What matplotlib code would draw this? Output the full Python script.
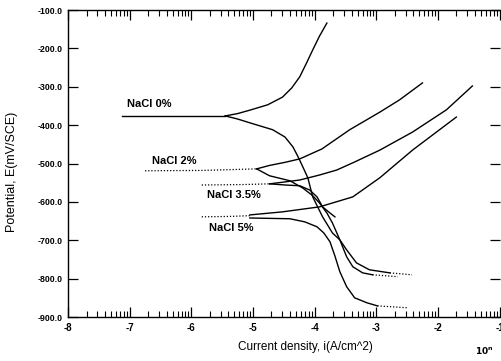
import math
import matplotlib
matplotlib.use("Agg")
import matplotlib.pyplot as plt
from matplotlib.ticker import FixedLocator, FuncFormatter

plt.rcParams['font.family'] = ['Liberation Sans', 'DejaVu Sans']

# log10 of current density (A/cm^2) and potential (mV/SCE)
# NaCl 0%
nacl0_flat_x = [-7.12, -6.18, -5.70, -5.45]
nacl0_flat_e = [-376, -376, -376, -376]
nacl0_an_x = [-5.45, -5.25, -5.05, -4.76, -4.52, -4.37, -4.24, -4.13, -4.03, -3.92, -3.80]
nacl0_an_e = [-376, -370, -361, -347, -327, -303, -274, -238, -204, -168, -134]
nacl0_cat_x = [-5.45, -5.25, -5.05, -4.68, -4.48, -4.35, -4.26, -4.19, -4.11, -4.03,
               -3.87, -3.71, -3.59, -3.48, -3.32, -3.11, -2.78]
nacl0_cat_e = [-376, -384, -394, -412, -431, -457, -485, -509, -537, -587,
               -639, -681, -699, -725, -759, -777, -785]
nacl0_tail_x = [-2.78, -2.42]
nacl0_tail_e = [-785, -790]

# NaCl 2%
nacl2_flat_x = [-6.75, -5.80, -4.94]
nacl2_flat_e = [-519, -518, -514]
nacl2_an_x = [-4.94, -4.73, -4.48, -4.24, -3.88, -3.43, -2.94, -2.62, -2.25]
nacl2_an_e = [-514, -505, -497, -488, -462, -412, -366, -334, -290]
nacl2_cat_x = [-4.94, -4.73, -4.40, -4.19, -4.03, -3.92, -3.80, -3.71, -3.59,
               -3.48, -3.38, -3.22, -3.06]
nacl2_cat_e = [-514, -532, -545, -564, -584, -603, -629, -655, -699,
               -743, -769, -785, -790]
nacl2_tail_x = [-3.06, -2.65]
nacl2_tail_e = [-790, -795]

# NaCl 3.5%
nacl35_flat_x = [-5.83, -5.20, -4.73]
nacl35_flat_e = [-556, -555, -553]
nacl35_an_x = [-4.73, -4.48, -4.24, -3.92, -3.64, -3.35, -2.94, -2.41, -1.86, -1.44]
nacl35_an_e = [-553, -548, -543, -530, -517, -496, -465, -418, -360, -298]
nacl35_cat_x = [-4.73, -4.48, -4.24, -4.08, -3.96, -3.87, -3.75, -3.67]
nacl35_cat_e = [-553, -556, -558, -569, -587, -613, -629, -639]

# NaCl 5%
nacl5_flat_x = [-5.83, -5.40, -5.05]
nacl5_flat_e = [-639, -638, -636]
nacl5_an_x = [-5.05, -4.52, -3.92, -3.38, -2.94, -2.41, -1.70]
nacl5_an_e = [-634, -626, -613, -587, -537, -465, -379]
nacl5_cat_x = [-5.05, -4.40, -4.16, -3.96, -3.85, -3.75, -3.67, -3.59, -3.48,
               -3.35, -3.15, -2.98]
nacl5_cat_e = [-642, -644, -652, -665, -681, -704, -741, -782, -821,
               -850, -863, -871]
nacl5_tail_x = [-2.98, -2.49]
nacl5_tail_e = [-871, -876]

labels = ["NaCl 0%", "NaCl 2%", "NaCl 3.5%", "NaCl 5%"]
label_x = [-7.05, -6.64, -5.75, -5.72]
label_e = [-345, -493, -582, -668]

x_ticks = [-8, -7, -6, -5, -4, -3, -2, -1]
y_ticks = [-100, -200, -300, -400, -500, -600, -700, -800, -900]

fig = plt.figure(figsize=(5.01, 3.61), dpi=100)
ax = fig.add_axes([68 / 501, 1 - 317 / 361, 431.5 / 501, 307 / 361])

solid = dict(color="black", lw=1.0)
dotted = dict(color="black", lw=0.9, ls=(0, (1, 1.5)))

ax.plot(nacl0_flat_x, nacl0_flat_e, **solid)
ax.plot(nacl0_an_x, nacl0_an_e, **solid)
ax.plot(nacl0_cat_x, nacl0_cat_e, **solid)
ax.plot(nacl0_tail_x, nacl0_tail_e, **dotted)

ax.plot(nacl2_flat_x, nacl2_flat_e, **dotted)
ax.plot(nacl2_an_x, nacl2_an_e, **solid)
ax.plot(nacl2_cat_x, nacl2_cat_e, **solid)
ax.plot(nacl2_tail_x, nacl2_tail_e, **dotted)

ax.plot(nacl35_flat_x, nacl35_flat_e, **dotted)
ax.plot(nacl35_an_x, nacl35_an_e, **solid)
ax.plot(nacl35_cat_x, nacl35_cat_e, **solid)

ax.plot(nacl5_flat_x, nacl5_flat_e, **dotted)
ax.plot(nacl5_an_x, nacl5_an_e, **solid)
ax.plot(nacl5_cat_x, nacl5_cat_e, **solid)
ax.plot(nacl5_tail_x, nacl5_tail_e, **dotted)

for txt, lx, le in zip(labels, label_x, label_e):
    ax.text(lx, le, txt, fontsize=8, fontweight="bold", va="center", ha="left")

ax.set_xlim(-8, -1)
ax.set_ylim(-900, -100)

# log-style minor ticks inside each decade
minor = [d + math.log10(m) for d in x_ticks[:-1] for m in range(2, 10)]
ax.xaxis.set_major_locator(FixedLocator(x_ticks))
ax.xaxis.set_minor_locator(FixedLocator(minor))
ax.yaxis.set_major_locator(FixedLocator(y_ticks))
ax.yaxis.set_major_formatter(FuncFormatter(lambda v, p: "%.1f" % v))
ax.xaxis.set_major_formatter(FuncFormatter(lambda v, p: "%d" % v))

ax.tick_params(axis="x", which="major", direction="in", length=7, width=0.9,
               top=True, labelsize=7, pad=4)
ax.tick_params(axis="x", which="minor", direction="in", length=4, width=0.8, top=True)
ax.tick_params(axis="y", which="major", direction="in", length=7, width=0.9,
               right=True, labelsize=6.3, pad=4)
for lab in ax.get_xticklabels() + ax.get_yticklabels():
    lab.set_fontweight("bold")

for s in ax.spines.values():
    s.set_linewidth(1.0)
ax.spines["right"].set_visible(False)

fig.text(305 / 501, 1 - 347 / 361, "Current density, i(A/cm^2)", fontsize=8.5,
         ha="center", va="center")
fig.text(12 / 501, 1 - 172 / 361, "Potential, E(mV/SCE)", fontsize=9,
         rotation=90, ha="center", va="center")
fig.text(484 / 501, 1 - 351 / 361, r"$\mathbf{10^n}$", fontsize=6.5,
         ha="center", va="center")

fig.savefig("out.png", dpi=100)
